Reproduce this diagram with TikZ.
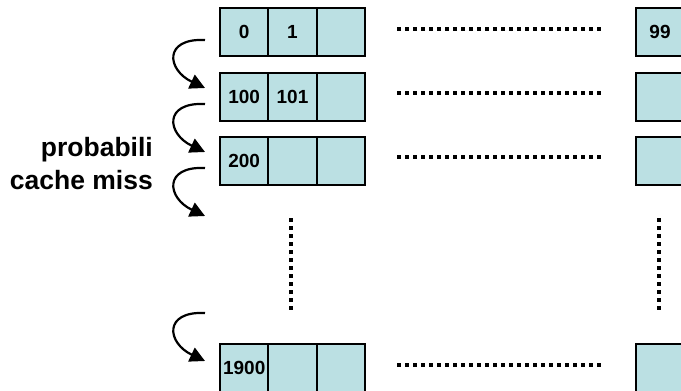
\documentclass[tikz,border=0pt]{standalone}
\usepackage{fontspec}
\setmainfont{Liberation Sans}
\usetikzlibrary{arrows.meta}
\definecolor{cellfill}{RGB}{187,224,227}

\begin{document}
\begin{tikzpicture}[x=1pt,y=-1pt,
  cell/.style={draw=black, line width=2pt, fill=cellfill,
    minimum width=48.3pt, minimum height=48pt, inner sep=0pt,
    font=\fontsize{19}{21}\selectfont\bfseries},
  dots/.style={line width=4pt, dash pattern=on 4pt off 4pt},
  miss/.style={line width=2.2pt, -{Triangle[length=15pt,width=15pt]}},
  lbl/.style={inner sep=0pt, align=right, font=\fontsize{26.5}{33}\selectfont\bfseries}]
\useasboundingbox (0,0) rectangle (681,391);

% array rows: first three cells and the last cell of each row
\foreach \r/\y/\a/\b/\z in {1/32/0/1/99, 2/97/100/101/, 3/161/200//, 4/368/1900//}{
  \node[cell] (r\r a) at (244.2,\y) {\a};
  \node[cell] (r\r b) at (292.5,\y) {\b};
  \node[cell] (r\r c) at (340.8,\y) {};
  \node[cell] (r\r z) at (660,\y) {\z};
}

% horizontal ellipses between the first cells and the last cell
\foreach \r/\y in {1/29, 2/93, 3/157, 4/365}{
  \coordinate (h\r s) at (397,\y);
  \coordinate (h\r e) at (601,\y);
  \draw[dots] (h\r s) -- (h\r e);
}

% vertical ellipses for the skipped rows
\coordinate (v1s) at (291,218); \coordinate (v1e) at (291,310);
\coordinate (v2s) at (659,218); \coordinate (v2e) at (659,310);
\draw[dots] (v1s) -- (v1e);
\draw[dots] (v2s) -- (v2e);

% curved arrows: jumping from one row to the next
\foreach \k/\y in {1/40, 2/104, 3/168, 4/313}{
  \coordinate (m\k s) at (205,\y);
  \coordinate (m\k e) at (205,\y+48);
  \draw[miss] (m\k s) .. controls +(-42,-2) and +(-38,-18) .. (m\k e);
}

\node[lbl, anchor=east] (label) at (153,164) {probabili\\cache miss};
\end{tikzpicture}
\end{document}
